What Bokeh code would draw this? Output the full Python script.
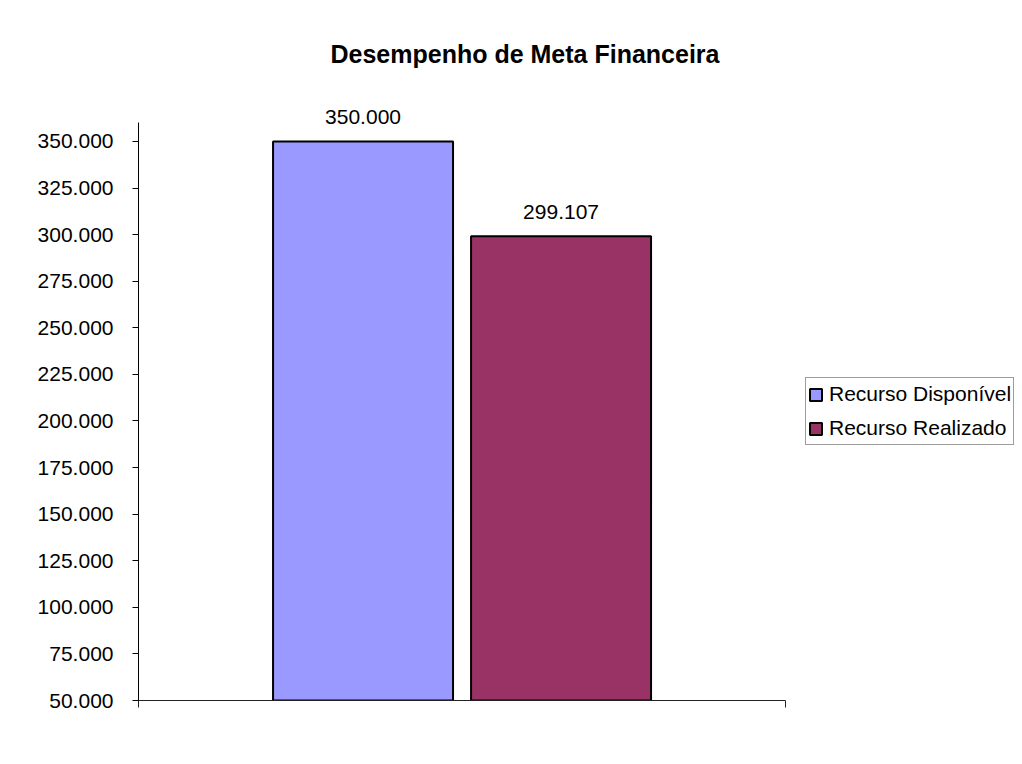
from bokeh.plotting import figure
from bokeh.models import (ColumnDataSource, Range1d, FixedTicker,
                          Legend, LegendItem, LabelSet, BoxAnnotation)
from bokeh.core.properties import value
from bokeh.embed import file_html
from bokeh.resources import INLINE

# ---- data ----
categories = ["Recurso Disponível", "Recurso Realizado"]
values = [350000, 299107]
value_labels = ["350.000", "299.107"]
bar_colors = ["#9999FF", "#993366"]
y_ticks = [50000, 75000, 100000, 125000, 150000, 175000, 200000, 225000,
           250000, 275000, 300000, 325000, 350000]
y_tick_labels = ["50.000", "75.000", "100.000", "125.000", "150.000", "175.000", "200.000",
                 "225.000", "250.000", "275.000", "300.000", "325.000", "350.000"]
title_text = "Desempenho de Meta Financeira"

FONT = "Liberation Sans"
y_axis_min, y_axis_max = 50000, 360000      # extent of the drawn value axis
y_view_end = 372000                          # room above for the value labels
pad = 0.634
x_axis_start, x_axis_end = -pad, len(categories) + pad
x_view_end = 3.79                            # room to the right for the legend

xpos = [i + 0.5 for i in range(len(categories))]
src = ColumnDataSource(dict(x=xpos, cat=categories, val=values, lab=value_labels, color=bar_colors))

p = figure(
    width=1014, height=756,
    x_range=Range1d(x_axis_start, x_view_end),
    y_range=Range1d(y_axis_min, y_view_end),
    output_backend="svg", toolbar_location=None,
    min_border_left=138, min_border_right=0, min_border_top=100, min_border_bottom=56,
)
p.xgrid.visible = False
p.ygrid.visible = False
p.outline_line_color = None
p.background_fill_color = "white"
p.border_fill_color = "white"

# chart-area border (left and top edges visible)
try:
    border = BoxAnnotation(left=7, right=3000, top=7, bottom=3000,
                           left_units="canvas", right_units="canvas",
                           top_units="canvas", bottom_units="canvas",
                           fill_alpha=0, line_color="#3a3a3a", line_width=2)
    p.add_layout(border)
except Exception:
    pass

# bars
r = p.vbar(x="x", top="val", bottom=y_axis_min, width=0.909, source=src,
           fill_color="color", line_color="black", line_width=2)

# value labels
labels = LabelSet(x="x", y="val", text="lab", source=src, text_align="center",
                  text_baseline="alphabetic", y_offset=17, text_font=value(FONT),
                  text_font_size="21px", text_color="black")
p.add_layout(labels)

# y axis
yax = p.yaxis[0]
yax.ticker = FixedTicker(ticks=y_ticks)
yax.bounds = (y_axis_min, y_axis_max)
yax.major_label_overrides = {t: l for t, l in zip(y_ticks, y_tick_labels)}
yax.minor_tick_line_color = None
yax.major_tick_in = 0
yax.major_tick_out = 6
yax.major_label_standoff = 19
yax.major_label_text_font = FONT
yax.major_label_text_font_size = "21px"
yax.major_label_text_color = "black"
yax.axis_line_color = "black"
yax.major_tick_line_color = "black"

# x axis: plain line with end ticks
xax = p.xaxis[0]
xax.ticker = FixedTicker(ticks=[x_axis_start, x_axis_end])
xax.bounds = (x_axis_start, x_axis_end)
xax.major_label_overrides = {x_axis_start: "", x_axis_end: ""}
xax.major_label_text_font_size = "1px"
xax.minor_tick_line_color = None
xax.major_tick_in = 0
xax.major_tick_out = 7
xax.axis_line_color = "#222222"
xax.major_tick_line_color = "#222222"

# title
p.title.text = title_text
p.title.text_font = FONT
p.title.text_font_style = "bold"
p.title.text_font_size = "25px"
p.title.align = "left"
p.title.offset = 192
p.title.standoff = 66
p.title.text_color = "black"

# legend
legend = Legend(items=[LegendItem(label=c, renderers=[r], index=i) for i, c in enumerate(categories)],
                location=(667, 255), padding=2, spacing=6,
                glyph_width=15, glyph_height=15, label_height=28, label_standoff=6,
                label_text_font=FONT, label_text_font_size="21px", label_text_color="black",
                border_line_color="#3a3a3a", border_line_width=1,
                background_fill_color="white")
p.add_layout(legend, "center")

open("out.html", "w").write(file_html(p, INLINE))
